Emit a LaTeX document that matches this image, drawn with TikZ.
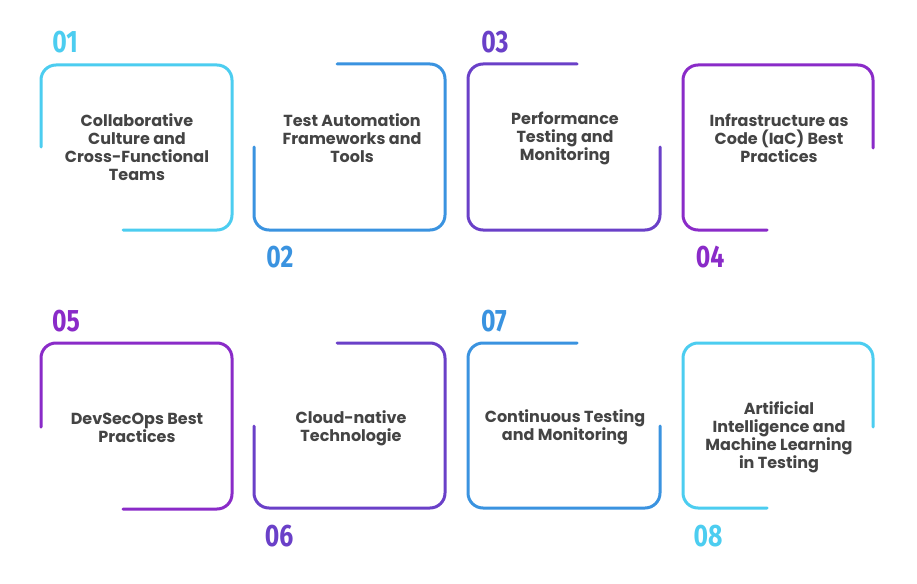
\documentclass[tikz,border=0pt]{standalone}
\usepackage{fontspec}
\setmainfont{Poppins}
\newfontfamily\numfont{Fira Sans}
\definecolor{ccyan}{HTML}{4CCDF0}
\definecolor{cblue}{HTML}{3A93E0}
\definecolor{cindigo}{HTML}{6A40C8}
\definecolor{cviolet}{HTML}{8A2BC8}
\definecolor{ctext}{HTML}{444444}
\begin{document}
\begin{tikzpicture}[x=1pt,y=-1pt]
\tikzset{
  frame/.style={line width=3pt,rounded corners=15pt,line cap=round},
  label/.style={align=center,text=ctext,font=\fontsize{16}{18}\selectfont\bfseries},
  num/.style={font=\numfont\fontsize{31}{31}\selectfont\bfseries,inner sep=0pt}
}
\useasboundingbox (0,0) rectangle (917,583);
\fill[white] (0,0) rectangle (917,583);
% frames
\draw[frame,ccyan]   (41,147) -- (41,65) -- (232,65) -- (232,230) -- (123,230);
\draw[frame,cblue]   (337,64) -- (445,64) -- (445,230) -- (254,230) -- (254,147);
\draw[frame,cindigo] (577,64) -- (468,64) -- (468,230) -- (660,230) -- (660,147);
\draw[frame,cviolet] (873,148) -- (873,65) -- (683,65) -- (683,230) -- (767,230);
\draw[frame,cviolet] (41,427) -- (41,343) -- (232,343) -- (232,509) -- (123,509);
\draw[frame,cindigo] (337,343) -- (445,343) -- (445,508) -- (254,508) -- (254,426);
\draw[frame,cblue]   (577,343) -- (468,343) -- (468,508) -- (660,508) -- (660,426);
\draw[frame,ccyan]   (873,427) -- (873,343) -- (683,343) -- (683,508) -- (767,508);
% numbers
\node[num,text=ccyan]   (n1) at (65,42)  {\scalebox{0.8}[1]{01}};
\node[num,text=cblue]   (n2) at (280,257) {\scalebox{0.8}[1]{02}};
\node[num,text=cindigo] (n3) at (495,42)  {\scalebox{0.8}[1]{03}};
\node[num,text=cviolet] (n4) at (710,257) {\scalebox{0.8}[1]{04}};
\node[num,text=cviolet] (n5) at (66,321)  {\scalebox{0.8}[1]{05}};
\node[num,text=cindigo] (n6) at (279,536) {\scalebox{0.8}[1]{06}};
\node[num,text=cblue]   (n7) at (494,321) {\scalebox{0.8}[1]{07}};
\node[num,text=ccyan]   (n8) at (708,536) {\scalebox{0.8}[1]{08}};
% labels
\node[label] (t1) at (137,147) {Collaborative\\Culture and\\Cross-Functional\\Teams};
\node[label] (t2) at (352,138) {Test Automation\\Frameworks and\\Tools};
\node[label] (t3) at (565,138) {Performance\\Testing and\\Monitoring};
\node[label] (t4) at (779,138) {Infrastructure as\\Code (IaC) Best\\Practices};
\node[label] (t5) at (137,428) {DevSecOps Best\\Practices};
\node[label] (t6) at (351,428) {Cloud-native\\Technologie};
\node[label] (t7) at (565,427) {Continuous Testing\\and Monitoring};
\node[label] (t8) at (779,437) {Artificial\\Intelligence and\\Machine Learning\\in Testing};
\end{tikzpicture}
\end{document}
